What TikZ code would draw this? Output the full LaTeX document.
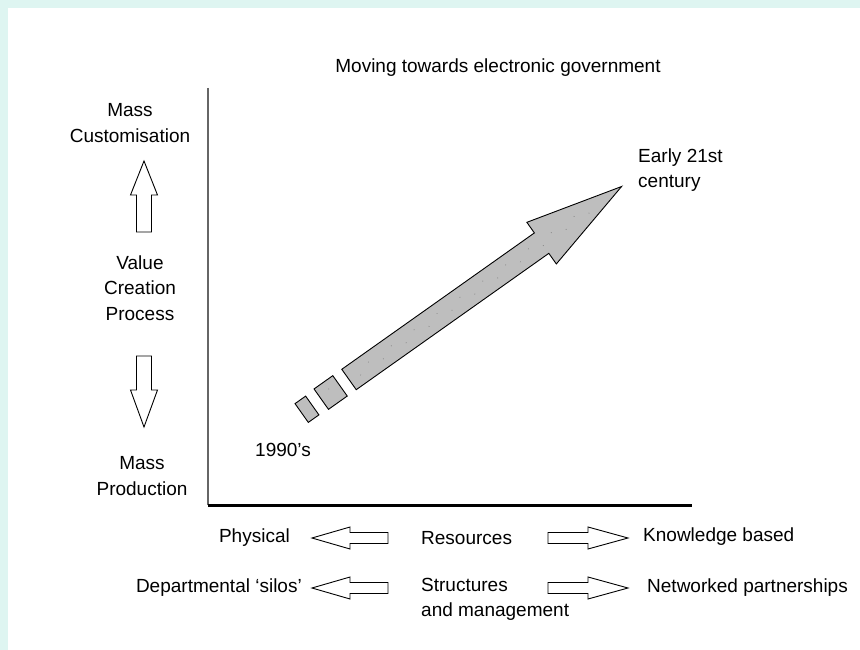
\documentclass[tikz,border=0pt]{standalone}
\usepackage{fontspec}
\setmainfont{Liberation Sans}
\definecolor{cyanbg}{RGB}{222,245,241}
\definecolor{arrowfill}{RGB}{190,190,190}
\begin{document}
\begin{tikzpicture}[x=1pt,y=-1pt,
  lbl/.style={font=\fontsize{19}{25.5}\selectfont, inner sep=0pt, align=center},
  hollow/.style={draw=black, line width=0.9pt, fill=white, line join=miter},
  bigarrow/.style={draw=black, line width=0.9pt, fill=arrowfill, line join=miter}]
\useasboundingbox (0,0) rectangle (860,650);
\fill[cyanbg] (0,0) rectangle (860,650);
\fill[white] (8,8) rectangle (860,650);

% axes
\coordinate (ytop) at (208,88);
\coordinate (origin) at (208,505);
\coordinate (xend) at (692,505);
\draw[black!60, line width=2.6pt] (ytop) -- (origin);
\draw[black, line width=3pt] (origin) -- (xend);

% title and labels
\node[lbl] (title) at (498,68) {Moving towards electronic government};
\node[lbl] (masscust) at (130,123) {Mass\\Customisation};
\node[lbl] (vcp) at (140,288) {Value\\Creation\\Process};
\node[lbl] (massprod) at (142,476) {Mass\\Production};
\node[lbl, anchor=west] (y1990) at (255,450) {1990's};
\node[lbl, anchor=west, align=left] (early) at (638,170) {Early 21st\\century};

% vertical hollow arrows
\draw[hollow] (144,161) -- (157.5,195) -- (151.5,195) -- (151.5,232) -- (136.5,232) -- (136.5,195) -- (130.5,195) -- cycle;
\draw[hollow] (144,427) -- (157.5,390) -- (151.5,390) -- (151.5,356) -- (136.5,356) -- (136.5,390) -- (130.5,390) -- cycle;

% bottom rows
\node[lbl, anchor=east] (physical) at (290,538) {Physical};
\node[lbl, anchor=west] (resources) at (421,538) {Resources};
\node[lbl, anchor=west] (knowledge) at (643,537) {Knowledge based};
\node[lbl, anchor=east] (silos) at (302,588) {Departmental `silos'};
\node[lbl, anchor=west, align=left] (structures) at (421,599.5) {Structures\\and management};
\node[lbl, anchor=west] (networked) at (647,588) {Networked partnerships};

\foreach \yy in {538,588}{
  \draw[hollow] (312,\yy) -- (350,\yy-11) -- (350,\yy-5.5) -- (388,\yy-5.5) -- (388,\yy+5.5) -- (350,\yy+5.5) -- (350,\yy+11) -- cycle;
  \draw[hollow] (628,\yy) -- (588,\yy-11) -- (588,\yy-5.5) -- (548,\yy-5.5) -- (548,\yy+5.5) -- (588,\yy+5.5) -- (588,\yy+11) -- cycle;
}

% big diagonal arrow
\begin{scope}[shift={(349,379.5)}, rotate=35.3]
  \draw[bigarrow] (0,-12.5) -- (236,-12.5) -- (236,-25.5) -- (334,0) -- (236,25.5) -- (236,12.5) -- (0,12.5) -- cycle;
  \draw[bigarrow] (-34,-12.5) rectangle (-11,12.5);
  \draw[bigarrow] (-58,-11.5) rectangle (-45,11.5);
  \foreach \u [count=\i] in {12,26,...,300}{
    \fill[black!45] (\u,{mod(\i,2)*6-3}) circle (0.6pt);
  }
  \fill[black!45] (-22,-4) circle (0.6pt);
\end{scope}
\end{tikzpicture}
\end{document}
